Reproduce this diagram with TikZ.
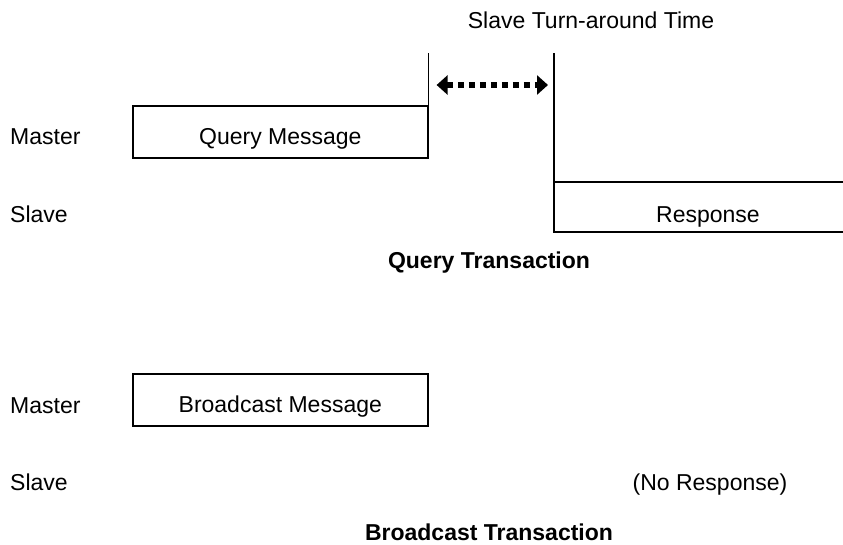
\documentclass[tikz,border=0pt]{standalone}
\usepackage{fontspec}
\setmainfont{Liberation Sans}
\usetikzlibrary{arrows.meta}
\begin{document}
\begin{tikzpicture}[x=1pt,y=-1pt,
	msgbox/.style={draw,line width=1.6pt,minimum width=295pt,inner sep=0pt,text height=39pt,text depth=13pt},
	lbl/.style={inner sep=0pt},
	waitarrow/.style={line width=6.5pt,dash pattern=on 6.5pt off 4.5pt,{Triangle[width=19pt,length=11pt]}-{Triangle[width=19pt,length=11pt]}}]
	\fontsize{23}{27}\selectfont
	\useasboundingbox (0,0) rectangle (843,544);
	\node[msgbox,anchor=north west] at (132,105)	(qmsg) {Query Message};
	\node[lbl,anchor=base west] at (10,144)		(qmaster) {Master};
	\node[lbl,anchor=base west] at (10,222)		(qslave) {Slave};
	\coordinate (qend) at ([yshift=52pt]qmsg.north east);
	\coordinate (rstart) at (554,53);
	\draw[line width=1.6pt] (qmsg.north east) -- (qend);
	\draw[line width=1.6pt] (rstart) -- (554,232) -- (843,232)
		(554,182) -- (843,182);
	\node[lbl,anchor=base] at (708,222)		(resp) {Response};
	\coordinate (ta) at ([xshift=8pt]qend|-0,85);
	\coordinate (tb) at ([xshift=-6pt]rstart|-0,85);
	\draw[waitarrow] (ta) -- (tb);
	\node[lbl,anchor=base] at (591,28)		(turn) {Slave Turn-around Time};
	\node[lbl,anchor=base,font=\bfseries] at (489,268)	(qtitle) {Query Transaction};
	\node[msgbox,anchor=north west] at (132,373)	(bmsg) {Broadcast Message};
	\node[lbl,anchor=base west] at (10,413)		(bmaster) {Master};
	\node[lbl,anchor=base west] at (10,490)		(bslave) {Slave};
	\node[lbl,anchor=base] at (710,490)		(noresp) {(No Response)};
	\node[lbl,anchor=base,font=\bfseries] at (489,540)	(btitle) {Broadcast Transaction};
\end{tikzpicture}
\end{document}
